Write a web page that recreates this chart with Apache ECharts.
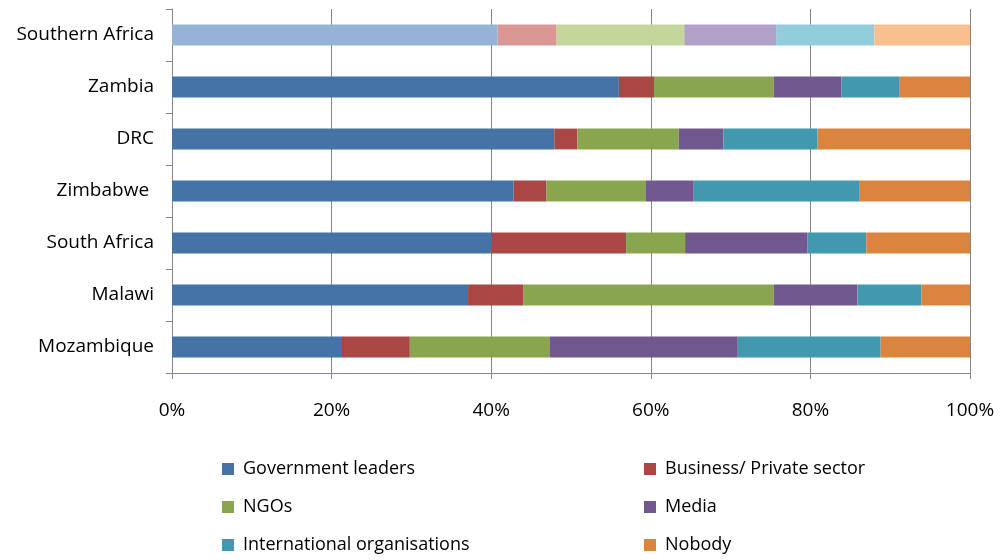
<!DOCTYPE html>
<html>
<head>
<meta charset="utf-8">
<script src="https://cdn.jsdelivr.net/npm/echarts@6/dist/echarts.min.js"></script>
<style>html,body{margin:0;padding:0;background:#fff;}#chart{width:1002px;height:560px;}</style>
</head>
<body>
<div id="chart"></div>
<script>
const categories = ["Mozambique", "Malawi", "South Africa", "Zimbabwe ", "DRC", "Zambia", "Southern Africa"];
const seriesNames = ["Government leaders", "Business/ Private sector", "NGOs", "Media", "International organisations", "Nobody"];
const government = [21.3, 37.1, 40.0, 42.8, 47.9, 56.0, 40.8];
const business   = [8.5, 6.9, 16.9, 4.1, 2.9, 4.4, 7.4];
const ngos       = [17.5, 31.4, 7.4, 12.5, 12.7, 15.0, 16.0];
const media      = [23.6, 10.5, 15.3, 5.9, 5.6, 8.5, 11.5];
const intl       = [17.9, 8.0, 7.4, 20.8, 11.8, 7.3, 12.3];
const nobody     = [11.2, 6.1, 13.0, 13.9, 19.1, 8.8, 12.0];
const xTicks = ["0%", "20%", "40%", "60%", "80%", "100%"];

const colors = ["#4572A7", "#AA4643", "#89A54E", "#71588F", "#4198AF", "#DB843D"];
const lightColors = ["#95B3D7", "#DA9694", "#C4D79B", "#B1A0C7", "#92CDDC", "#FABF8F"];
const allValues = [government, business, ngos, media, intl, nobody];
const FONT = "Open Sans";

const series = seriesNames.map((name, i) => ({
  name: name,
  type: 'bar',
  stack: 'total',
  barWidth: '40%',
  itemStyle: { color: colors[i] },
  data: allValues[i].map((v, j) => categories[j] === "Southern Africa"
    ? { value: v, itemStyle: { color: lightColors[i] } }
    : v)
}));

const legendText = { fontFamily: FONT, fontSize: 18, lineHeight: 20, color: '#000', padding: [0, 0, 0, 4] };

const chart = echarts.init(document.getElementById('chart'), null, { renderer: 'canvas' });
chart.setOption({
  animation: false,
  backgroundColor: '#ffffff',
  grid: { left: 172, right: 32, top: 9, bottom: 187, containLabel: false },
  xAxis: {
    type: 'value', min: 0, max: 100, interval: 20,
    axisLine: { show: true, lineStyle: { color: '#868686', width: 1 } },
    axisTick: { show: true, length: 6, lineStyle: { color: '#868686' } },
    splitLine: { show: true, lineStyle: { color: '#868686', width: 1 } },
    axisLabel: {
      margin: 28, color: '#000', fontFamily: FONT, fontSize: 19,
      formatter: (v) => xTicks[Math.round(v / 20)]
    }
  },
  yAxis: {
    type: 'category', data: categories,
    axisLine: { show: true, lineStyle: { color: '#868686', width: 1 } },
    axisTick: { show: true, length: 6, lineStyle: { color: '#868686' } },
    axisLabel: { margin: 18, color: '#000', fontFamily: FONT, fontSize: 19 }
  },
  legend: [
    {
      data: [seriesNames[0], seriesNames[2], seriesNames[4]],
      orient: 'vertical', left: 222, top: 459, itemGap: 18, padding: 0, height: 100,
      itemWidth: 12, itemHeight: 12, icon: 'rect',
      textStyle: legendText
    },
    {
      data: [seriesNames[1], seriesNames[3], seriesNames[5]],
      orient: 'vertical', left: 644, top: 459, itemGap: 18, padding: 0, height: 100,
      itemWidth: 12, itemHeight: 12, icon: 'rect',
      textStyle: legendText
    }
  ],
  series: series
});
</script>
</body>
</html>
